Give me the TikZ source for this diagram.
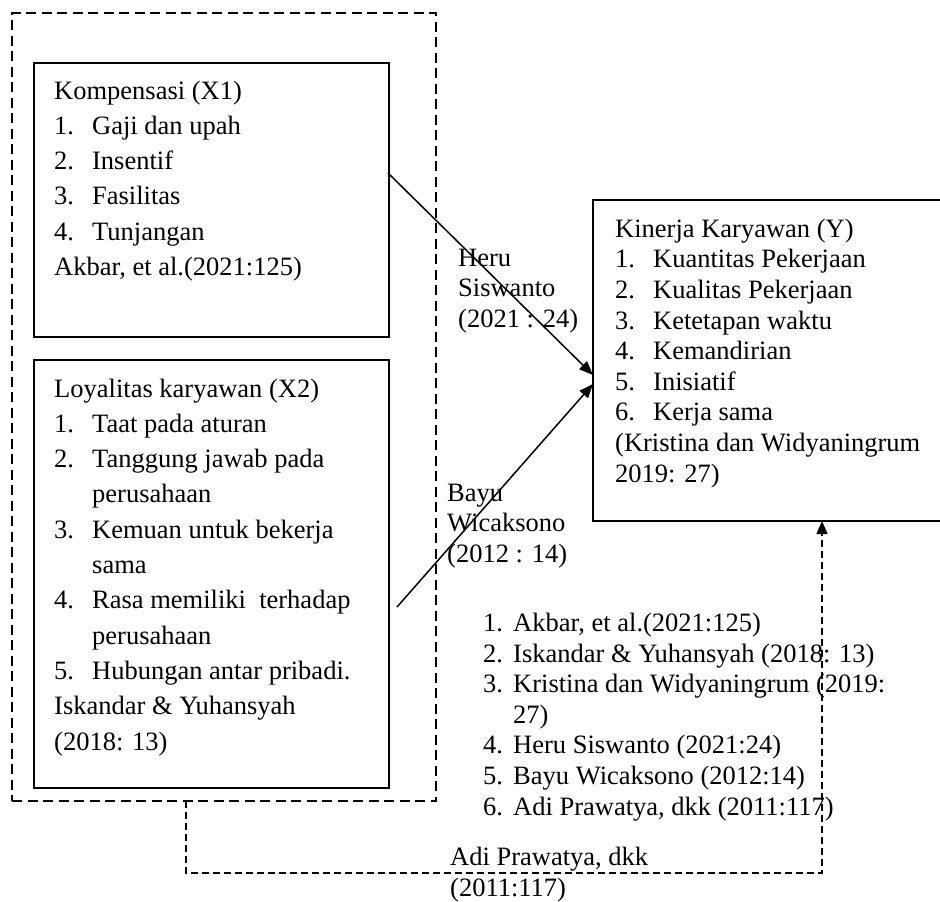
\documentclass[tikz,border=0pt]{standalone}
\usepackage{fontspec}
\setmainfont{Liberation Serif}
\usetikzlibrary{arrows.meta,calc}
\begin{document}
\begin{tikzpicture}[x=1pt,y=-1pt,
  box/.style={draw, line width=1.1pt, inner sep=0pt, outer sep=0pt, anchor=north west},
  grpbox/.style={draw, line width=2.4pt, dash pattern=on 10pt off 5.5pt, inner sep=0pt, outer sep=0pt, anchor=north west},
  txtwide/.style={anchor=base west, align=left, inner sep=0pt, font=\fontsize{26.5}{35.3}\selectfont},
  txtnarrow/.style={anchor=base west, align=left, inner sep=0pt, font=\fontsize{26.5}{30.6}\selectfont},
  lbl/.style={anchor=base west, align=left, inner sep=0pt, font=\fontsize{26.5}{30.5}\selectfont},
  arr/.style={line width=1.5pt, -{Triangle[length=14pt,width=11pt]}},
  conn/.style={line width=1.5pt, dash pattern=on 7pt off 4pt, -{Triangle[length=13pt,width=11pt]}}
]
\useasboundingbox (0,0) rectangle (940,902);

% boxes
\node[grpbox, minimum width=424pt, minimum height=788pt] (grp) at (12,13) {};
\node[box, minimum width=355pt, minimum height=274pt] (x1) at (34,63) {};
\node[box, minimum width=355pt, minimum height=428pt] (x2) at (34,360) {};
\node[box, minimum width=360pt, minimum height=321pt] (y) at (593,200) {};

% box texts (anchored at the baseline of the last line)
\node[txtwide] (x1t) at (54,275.5) {Kompensasi (X1)\\
\makebox[38pt][l]{1.}Gaji dan upah\\
\makebox[38pt][l]{2.}Insentif\\
\makebox[38pt][l]{3.}Fasilitas\\
\makebox[38pt][l]{4.}Tunjangan\\
Akbar, et al.(2021:125)};

\node[txtwide] (x2t) at (54,750) {Loyalitas karyawan (X2)\\
\makebox[38pt][l]{1.}Taat pada aturan\\
\makebox[38pt][l]{2.}Tanggung jawab pada\\
\hspace*{38pt}perusahaan\\
\makebox[38pt][l]{3.}Kemuan untuk bekerja\\
\hspace*{38pt}sama\\
\makebox[38pt][l]{4.}Rasa memiliki\ \ terhadap\\
\hspace*{38pt}perusahaan\\
\makebox[38pt][l]{5.}Hubungan antar pribadi.\\
Iskandar \& Yuhansyah\\
(2018: 13)};

\node[txtnarrow] (yt) at (615,482) {Kinerja Karyawan (Y)\\
\makebox[38pt][l]{1.}Kuantitas Pekerjaan\\
\makebox[38pt][l]{2.}Kualitas Pekerjaan\\
\makebox[38pt][l]{3.}Ketetapan waktu\\
\makebox[38pt][l]{4.}Kemandirian\\
\makebox[38pt][l]{5.}Inisiatif\\
\makebox[38pt][l]{6.}Kerja sama\\
(Kristina dan Widyaningrum\\
2019: 27)};

% reference list
\node[txtnarrow] (refs) at (483,815) {\makebox[30pt][l]{1.}Akbar, et al.(2021:125)\\
\makebox[30pt][l]{2.}Iskandar \& Yuhansyah (2018: 13)\\
\makebox[30pt][l]{3.}Kristina dan Widyaningrum (2019:\\
\hspace*{30pt}27)\\
\makebox[30pt][l]{4.}Heru Siswanto (2021:24)\\
\makebox[30pt][l]{5.}Bayu Wicaksono (2012:14)\\
\makebox[30pt][l]{6.}Adi Prawatya, dkk (2011:117)};

% connectors
\draw[arr] ($(x1.east |- 0,173)+(-1,0)$) -- (y.west |- 0,375);
\draw[arr] ($(x2.east |- 0,607)+(8,0)$) -- (y.west |- 0,384);
\draw[conn] (grp.south -| 186,0) -- ++(0,72) -| (y.south -| 822,0);

% labels
\node[lbl] (heru) at (458,327) {Heru\\Siswanto\\(2021 : 24)};
\node[lbl] (bayu) at (447,562) {Bayu\\Wicaksono\\(2012 : 14)};
\node[lbl] (adi) at (450,896) {Adi Prawatya, dkk\\(2011:117)};
\end{tikzpicture}
\end{document}
